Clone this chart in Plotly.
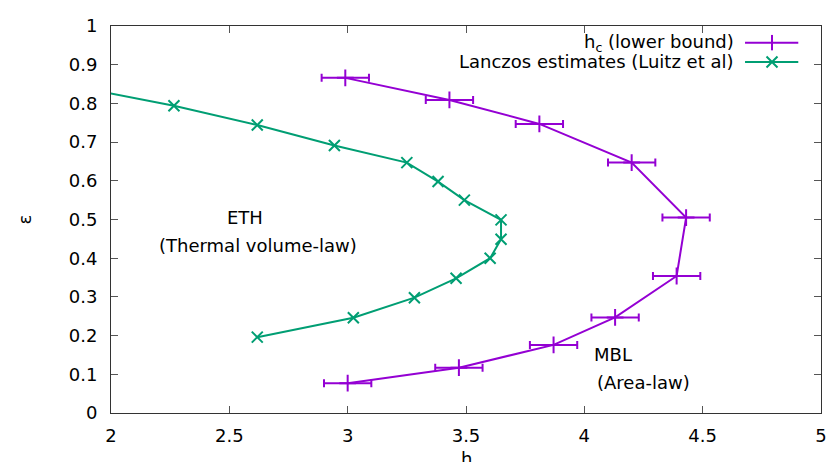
import plotly.graph_objects as go

# h_c (lower bound) with horizontal error bars
hc_h = [2.99, 3.43, 3.81, 4.20, 4.43, 4.39, 4.13, 3.87, 3.47, 3.00]
hc_eps = [0.866, 0.809, 0.747, 0.647, 0.505, 0.354, 0.247, 0.176, 0.117, 0.077]
hc_err = [0.10, 0.10, 0.10, 0.10, 0.10, 0.10, 0.10, 0.10, 0.10, 0.10]

# Lanczos estimates (Luitz et al)
lz_h = [1.84, 2.266, 2.618, 2.944, 3.250, 3.382, 3.493, 3.648, 3.648, 3.602, 3.458, 3.282, 3.024, 2.618]
lz_eps = [0.845, 0.794, 0.744, 0.691, 0.647, 0.598, 0.550, 0.499, 0.449, 0.400, 0.348, 0.298, 0.246, 0.196]

x_ticks = [2, 2.5, 3, 3.5, 4, 4.5, 5]
x_tick_labels = ["2", "2.5", "3", "3.5", "4", "4.5", "5"]
y_ticks = [0, 0.1, 0.2, 0.3, 0.4, 0.5, 0.6, 0.7, 0.8, 0.9, 1]
y_tick_labels = ["0", "0.1", "0.2", "0.3", "0.4", "0.5", "0.6", "0.7", "0.8", "0.9", "1"]

series_names = ["h<sub>c</sub> (lower bound)", "Lanczos estimates (Luitz et al)"]
PURPLE = "#9400D3"
GREEN = "#009E73"
FONT = "DejaVu Sans"

fig = go.Figure()

fig.add_trace(go.Scatter(
    x=hc_h, y=hc_eps, mode="lines+markers",
    line=dict(color=PURPLE, width=2),
    marker=dict(symbol="cross-thin", size=12, line=dict(color=PURPLE, width=2)),
    error_x=dict(type="data", array=hc_err, visible=True, color=PURPLE, thickness=2, width=4),
    showlegend=False,
))
fig.add_trace(go.Scatter(
    x=lz_h, y=lz_eps, mode="lines+markers",
    line=dict(color=GREEN, width=2),
    marker=dict(symbol="x-thin", size=11, line=dict(color=GREEN, width=2)),
    showlegend=False,
))

# custom gnuplot-style key (text left, sample right) on an overlay axis in [0,1]
key_y = [0.957, 0.907]
key_colors = [PURPLE, GREEN]
key_symbols = ["line-ns", "x-thin"]
for ky, kc, ks, name in zip(key_y, key_colors, key_symbols, series_names):
    fig.add_trace(go.Scatter(
        x=[0.893, 0.968], y=[ky, ky], mode="lines", xaxis="x2", yaxis="y2",
        line=dict(color=kc, width=2), showlegend=False, hoverinfo="skip"))
    fig.add_trace(go.Scatter(
        x=[0.931], y=[ky], mode="markers", xaxis="x2", yaxis="y2",
        marker=dict(symbol=ks, size=11, line=dict(color=kc, width=2)),
        showlegend=False, hoverinfo="skip"))
    fig.add_annotation(x=0.88, y=ky, xref="x2", yref="y2", text=name,
                       showarrow=False, xanchor="right", yanchor="middle",
                       font=dict(family=FONT, size=18, color="black"))

# region labels
fig.add_annotation(x=2.566, y=0.506, text="ETH", showarrow=False,
                   font=dict(family=FONT, size=18, color="black"))
fig.add_annotation(x=2.621, y=0.434, text="(Thermal volume-law)", showarrow=False,
                   font=dict(family=FONT, size=18, color="black"))
fig.add_annotation(x=4.122, y=0.152, text="MBL", showarrow=False,
                   font=dict(family=FONT, size=18, color="black"))
fig.add_annotation(x=4.251, y=0.080, text="(Area-law)", showarrow=False,
                   font=dict(family=FONT, size=18, color="black"))

# x-axis title placed below tick labels (partly cut by the page edge, as in the reference)
fig.add_annotation(x=0.5, y=-0.085, xref="paper", yref="paper", text="h",
                   showarrow=False, xanchor="center", yanchor="top",
                   font=dict(family=FONT, size=18, color="black"))

axis_common = dict(
    showgrid=False, zeroline=False, showline=True, linecolor="#333333", linewidth=1,
    mirror="ticks", ticks="inside", ticklen=7, tickcolor="#555555", tickwidth=1,
    tickfont=dict(family=FONT, size=18, color="black"), automargin=False,
)

fig.update_layout(
    width=827, height=462,
    margin=dict(l=111, r=6, t=26, b=49),
    paper_bgcolor="white", plot_bgcolor="white",
    showlegend=False,
    xaxis=dict(range=[2, 5], tickvals=x_ticks, ticktext=x_tick_labels,
               ticklabelstandoff=6, **axis_common),
    yaxis=dict(range=[0, 1], tickvals=y_ticks, ticktext=y_tick_labels,
               title=dict(text="ε", font=dict(family=FONT, size=18, color="black"), standoff=32),
               ticklabelstandoff=9, **axis_common),
    xaxis2=dict(overlaying="x", range=[0, 1], visible=False, anchor="y2", fixedrange=True),
    yaxis2=dict(overlaying="y", range=[0, 1], visible=False, anchor="x2", fixedrange=True),
)

fig.write_html("out.html")
